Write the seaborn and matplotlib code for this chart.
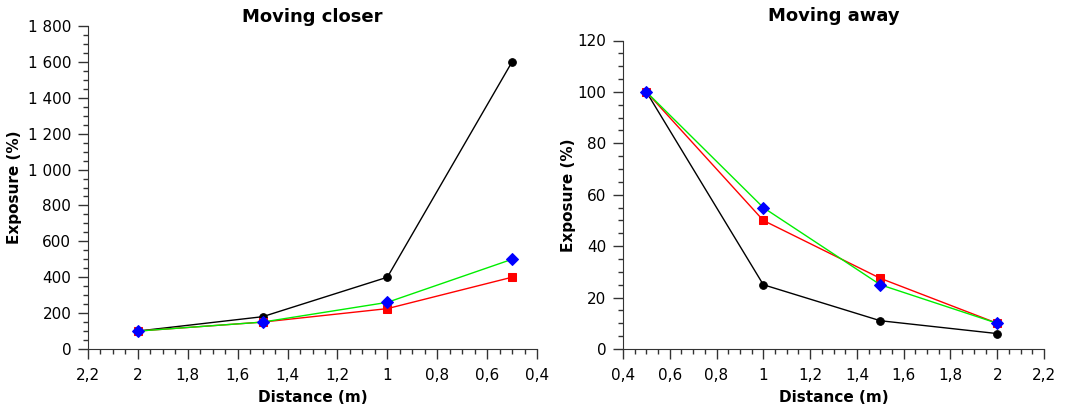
import numpy as np
import pandas as pd
import matplotlib
matplotlib.use("Agg")
import matplotlib.pyplot as plt
from matplotlib.ticker import MultipleLocator, FuncFormatter
import seaborn as sns

# distances (m)
closer_dist = [2, 1.5, 1, 0.5]
away_dist = [0.5, 1, 1.5, 2]

# exposure (%) per series
closer_black = [100, 180, 400, 1600]
closer_red = [100, 150, 225, 400]
closer_green = [100, 150, 260, 500]

away_black = [100, 25, 11, 6]
away_red = [100, 50, 27.5, 10]
away_green = [100, 55, 25, 10]

sns.set_style("ticks")
plt.rcParams["font.family"] = ["DejaVu Sans"]
plt.rcParams["axes.edgecolor"] = "#333333"
plt.rcParams["xtick.color"] = "#333333"
plt.rcParams["ytick.color"] = "#333333"
plt.rcParams["xtick.labelcolor"] = "black"
plt.rcParams["ytick.labelcolor"] = "black"
plt.rcParams["text.color"] = "black"
plt.rcParams["axes.labelcolor"] = "black"


def num_fmt(v, pos):
    if abs(v - round(v)) < 1e-9:
        s = f"{int(round(v)):,}".replace(",", " ")
    else:
        s = f"{v:.1f}".replace(".", ",")
    return s


series_style = [
    ("black", "o", "black", 5.5),
    ("red", "s", "red", 5.5),
    ("#00ee00", "D", "blue", 6),
]


def draw(ax, dist, values, title, ymax, ymajor, yminor, pad, ylpad):
    for (lc, mk, mc, ms), vals in zip(series_style, values):
        df = pd.DataFrame({"Distance": dist, "Exposure": vals})
        sns.lineplot(data=df, x="Distance", y="Exposure", ax=ax, color=lc,
                     linewidth=1, marker=mk, markersize=ms,
                     markerfacecolor=mc, markeredgecolor=mc, sort=False)
    ax.set_ylim(0, ymax)
    ax.yaxis.set_major_locator(MultipleLocator(ymajor))
    ax.yaxis.set_minor_locator(MultipleLocator(yminor))
    ax.xaxis.set_major_locator(MultipleLocator(0.2))
    ax.xaxis.set_minor_locator(MultipleLocator(0.05))
    ax.xaxis.set_major_formatter(FuncFormatter(num_fmt))
    ax.yaxis.set_major_formatter(FuncFormatter(num_fmt))
    ax.tick_params(which="major", direction="out", length=7, width=1,
                   labelsize=11, pad=5)
    ax.tick_params(axis="x", which="major", pad=7)
    ax.tick_params(which="minor", direction="out", length=3.5, width=1)
    sns.despine(ax=ax)
    ax.set_title(title, fontsize=13, fontweight="bold", pad=pad)
    ax.set_xlabel("Distance (m)", fontsize=11, fontweight="bold", labelpad=5)
    ax.set_ylabel("Exposure (%)", fontsize=11, fontweight="bold",
                  labelpad=ylpad)


fig = plt.figure(figsize=(10.78, 4.09), dpi=100)
ax1 = fig.add_axes([88 / 1078, 60 / 409, 449 / 1078, 323 / 409])
ax2 = fig.add_axes([623 / 1078, 60 / 409, 421 / 1078, 308.5 / 409])

draw(ax1, closer_dist, [closer_black, closer_red, closer_green],
     "Moving closer", 1800, 200, 50, 3, 4)
ax1.set_xlim(2.2, 0.4)

draw(ax2, away_dist, [away_black, away_red, away_green],
     "Moving away", 120, 20, 5, 14, 1)
ax2.set_xlim(0.4, 2.2)

fig.savefig("out.png", dpi=100)
